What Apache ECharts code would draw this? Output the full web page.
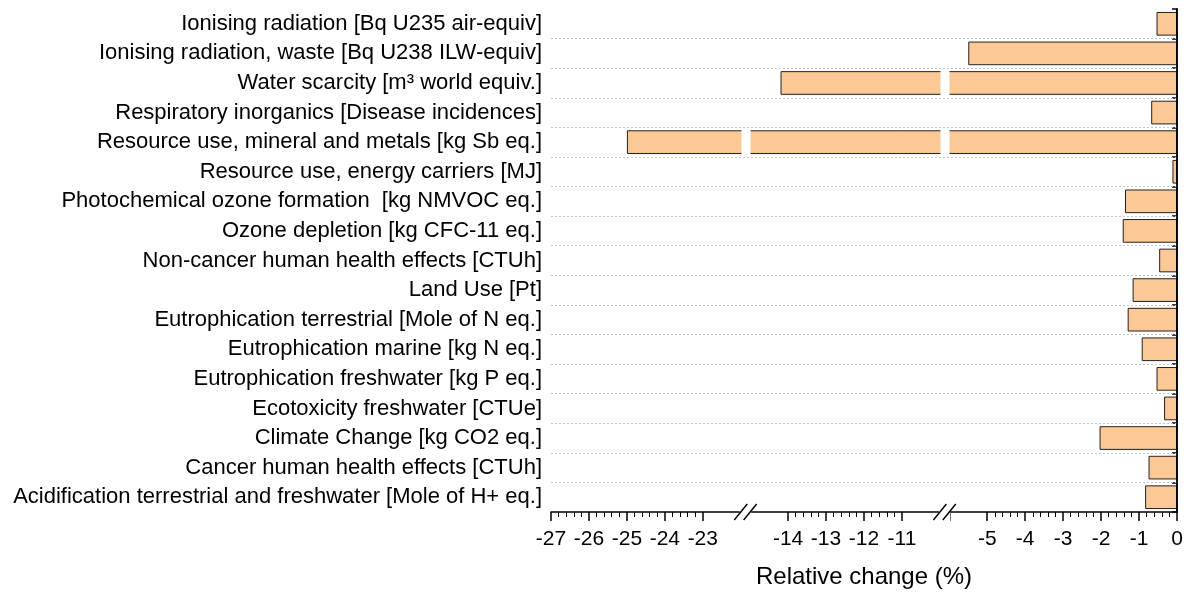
<!DOCTYPE html>
<html><head><meta charset="utf-8">
<script src="https://cdn.jsdelivr.net/npm/echarts@6/dist/echarts.min.js"></script>
<style>html,body{margin:0;padding:0;background:#fff}#c{width:1192px;height:594px}</style>
</head><body><div id="c"></div>
<script>
const categories = [
  'Ionising radiation [Bq U235 air-equiv]',
  'Ionising radiation, waste [Bq U238 ILW-equiv]',
  'Water scarcity [m³ world equiv.]',
  'Respiratory inorganics [Disease incidences]',
  'Resource use, mineral and metals [kg Sb eq.]',
  'Resource use, energy carriers [MJ]',
  'Photochemical ozone formation  [kg NMVOC eq.]',
  'Ozone depletion [kg CFC-11 eq.]',
  'Non-cancer human health effects [CTUh]',
  'Land Use [Pt]',
  'Eutrophication terrestrial [Mole of N eq.]',
  'Eutrophication marine [kg N eq.]',
  'Eutrophication freshwater [kg P eq.]',
  'Ecotoxicity freshwater [CTUe]',
  'Climate Change [kg CO2 eq.]',
  'Cancer human health effects [CTUh]',
  'Acidification terrestrial and freshwater [Mole of H+ eq.]'
];
const values = [-0.54, -5.5, -14.2, -0.68, -25.0, -0.12, -1.37, -1.43, -0.47, -1.17, -1.3, -0.93, -0.54, -0.34, -2.04, -0.75, -0.84];
const breakStarts = [-22, -10];
const breakEnds = [-15, -6];
const hiddenTickLabels = [-22, -15, -10, -6];
const axisTitle = 'Relative change (%)';

const FONT = '"Liberation Sans", Arial, sans-serif';
const chart = echarts.init(document.getElementById('c'));
const option = {
  animation: false,
  textStyle: { fontFamily: FONT },
  grid: { left: 551, right: 15, top: 9, bottom: 81, containLabel: false },
  xAxis: {
    type: 'value', min: -27, max: 0, interval: 1,
    breaks: breakStarts.map((s, i) => ({ start: s, end: breakEnds[i], gap: '1.5%' })),
    breakArea: {
      show: true,
      itemStyle: { color: '#fff', borderColor: '#fff', borderWidth: 0, opacity: 1 },
      zigzagAmplitude: 0,
      zigzagZ: 3,
      expandOnClick: false
    },
    axisLine: { show: true, onZero: false, lineStyle: { color: '#000', width: 1.5 } },
    axisTick: { show: true, length: 9, lineStyle: { color: '#000', width: 1.5 } },
    minorTick: { show: true, splitNumber: 5, length: 5, lineStyle: { color: '#000', width: 1 } },
    axisLabel: {
      fontSize: 21, color: '#000', margin: 17, fontFamily: FONT,
      formatter: v => hiddenTickLabels.some(h => Math.abs(h - v) < 1e-6) ? '' : String(Math.round(v))
    },
    splitLine: { show: false },
    name: axisTitle, nameLocation: 'middle', nameGap: 53,
    nameTextStyle: { fontSize: 24, color: '#000', fontFamily: FONT }
  },
  yAxis: [{
    type: 'category', data: categories, inverse: true,
    axisLine: { show: true, lineStyle: { color: '#000', width: 1.5 } },
    axisTick: { show: true, length: 5, inside: false, lineStyle: { color: '#000', width: 1.5 } },
    axisLabel: { fontSize: 22, color: '#000', margin: 9, fontFamily: FONT },
    splitLine: { show: false }
  }, {
    type: 'category', data: categories, inverse: true, position: 'right', z: 5,
    axisLine: { show: true, lineStyle: { color: '#000', width: 1.5 } },
    axisTick: { show: false }, axisLabel: { show: false },
    splitLine: { show: true, showMinLine: false, showMaxLine: false, lineStyle: { color: '#c4c4c4', type: [2, 2], width: 1 } }
  }],
  series: [{
    type: 'bar', data: values, yAxisIndex: 0,
    barCategoryGap: '20%',
    itemStyle: { color: '#FCC896', borderColor: '#222', borderWidth: 1 }
  }]
};
chart.setOption(option);

// axis-break "//" marks on the x axis, placed through the library's scale
const rect = chart.getModel().getComponent('grid', 0).coordinateSystem.getRect();
const yLine = rect.y + rect.height;
const marks = [];
breakStarts.forEach((s, i) => {
  const x1 = chart.convertToPixel({ xAxisIndex: 0 }, s);
  const x2 = chart.convertToPixel({ xAxisIndex: 0 }, breakEnds[i]);
  marks.push({ type: 'rect', shape: { x: x1 - 1, y: yLine - 3, width: x2 - x1 + 2, height: 12 }, style: { fill: '#fff' }, z: 50 });
  [x1, x2].forEach(x => marks.push({
    type: 'line', shape: { x1: x - 6.5, y1: yLine + 8, x2: x + 6.5, y2: yLine - 8 },
    style: { stroke: '#000', lineWidth: 1.4 }, z: 51
  }));
});
chart.setOption({ graphic: marks });
</script></body></html>
